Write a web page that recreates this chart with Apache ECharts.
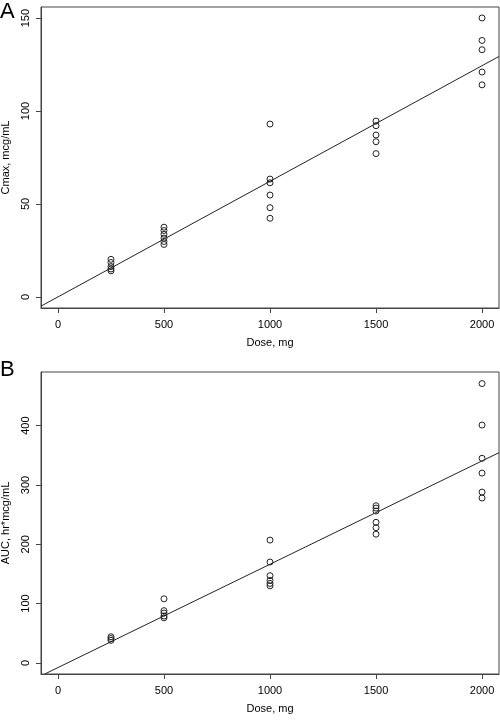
<!DOCTYPE html>
<html>
<head>
<meta charset="utf-8">
<script src="https://cdn.jsdelivr.net/npm/echarts@6/dist/echarts.min.js"></script>
<style>
html,body{margin:0;padding:0;background:#fff;}
#c{width:500px;height:721px;}
</style>
</head>
<body>
<div id="c"></div>
<script>
// Panel A: Cmax (mcg/mL) by dose (mg)
const doseA = [250,250,250,250,250, 500,500,500,500,500,500, 1000,1000,1000,1000,1000,1000, 1500,1500,1500,1500,1500, 2000,2000,2000,2000,2000];
const cmax  = [20.2,18.5,16.3,15.0,14.0, 37.5,35.7,33.7,31.6,29.8,28.2, 93.0,63.4,61.4,54.8,48.0,42.3, 94.6,92.1,87.1,83.5,77.1, 150.1,138.0,133.0,121.0,114.1];
// Panel B: AUC (hr*mcg/mL) by dose (mg)
const doseB = [250,250,250, 500,500,500,500,500, 1000,1000,1000,1000,1000,1000, 1500,1500,1500,1500,1500,1500, 2000,2000,2000,2000,2000,2000];
const auc   = [44,41,38, 108,88,84,79,76, 207,170,147,139,134,130, 265,261,256,237,228,217, 471,401,345,320,288,278];
// fitted lines (endpoints)
const fitAx = [-80, 2080];
const fitAy = [-5.0, 129.4];
const fitBx = [-61, 2080];
const fitBy = [-18.6, 354.5];
// ticks
const xTicks  = [0,500,1000,1500,2000];
const yTicksA = [0,50,100,150];
const yTicksB = [0,100,200,300,400];
const xTitle = 'Dose, mg';
const yTitleA = 'Cmax, mcg/mL';
const yTitleB = 'AUC, hr*mcg/mL';

const FONT = 'Liberation Sans, Arial, sans-serif';
const AX = '#444';
const chart = echarts.init(document.getElementById('c'), null, {renderer:'canvas'});

function xAxis(gi){
  return {
    type:'value', gridIndex:gi, min:-80, max:2080,
    name:xTitle, nameLocation:'middle', nameGap:29,
    nameTextStyle:{fontFamily:FONT,fontSize:11,color:'#000'},
    axisLine:{show:true,onZero:false,lineStyle:{color:AX,width:1}},
    axisTick:{show:true,length:5,lineStyle:{color:AX},customValues:xTicks},
    axisLabel:{fontFamily:FONT,fontSize:11,color:'#000',margin:11,customValues:xTicks,formatter:v=>String(v)},
    splitLine:{show:false}
  };
}
function yAxis(gi,min,max,ticks,title){
  return {
    type:'value', gridIndex:gi, min:min, max:max,
    name:title, nameLocation:'middle', nameGap:30,
    nameTextStyle:{fontFamily:FONT,fontSize:11,color:'#000'},
    axisLine:{show:true,onZero:false,lineStyle:{color:AX,width:1}},
    axisTick:{show:true,length:5,lineStyle:{color:AX},customValues:ticks},
    axisLabel:{fontFamily:FONT,fontSize:11,color:'#000',margin:10,rotate:90,customValues:ticks,formatter:v=>String(v)},
    splitLine:{show:false}
  };
}
const pts = (xs,ys)=>xs.map((x,i)=>[x,ys[i]]);

chart.setOption({
  animation:false,
  backgroundColor:'#fff',
  grid:[
    {left:41, top:7, width:458, height:301, show:true, borderColor:AX, borderWidth:1, backgroundColor:'transparent', outerBoundsMode:'none', containLabel:false},
    {left:41, top:372, width:458, height:302, show:true, borderColor:AX, borderWidth:1, backgroundColor:'transparent', outerBoundsMode:'none', containLabel:false}
  ],
  xAxis:[xAxis(0), xAxis(1)],
  yAxis:[yAxis(0,-6,156,yTicksA,yTitleA), yAxis(1,-18.8,490.5,yTicksB,yTitleB)],
  graphic:[
    {type:'text', left:0, top:1, style:{text:'A', font:'22px '+FONT, fill:'#000'}},
    {type:'text', left:0, top:359, style:{text:'B', font:'22px '+FONT, fill:'#000'}}
  ],
  series:[
    {type:'scatter', xAxisIndex:0, yAxisIndex:0, data:pts(doseA,cmax), symbol:'circle', symbolSize:6, z:5,
     itemStyle:{color:'rgba(255,255,255,0)', borderColor:'#222', borderWidth:1, opacity:1}},
    {type:'line', xAxisIndex:0, yAxisIndex:0, data:pts(fitAx,fitAy), symbol:'none', clip:true,
     lineStyle:{color:'#222', width:1}},
    {type:'scatter', xAxisIndex:1, yAxisIndex:1, data:pts(doseB,auc), symbol:'circle', symbolSize:6, z:5,
     itemStyle:{color:'rgba(255,255,255,0)', borderColor:'#222', borderWidth:1, opacity:1}},
    {type:'line', xAxisIndex:1, yAxisIndex:1, data:pts(fitBx,fitBy), symbol:'none', clip:true,
     lineStyle:{color:'#222', width:1}}
  ]
});
</script>
</body>
</html>
